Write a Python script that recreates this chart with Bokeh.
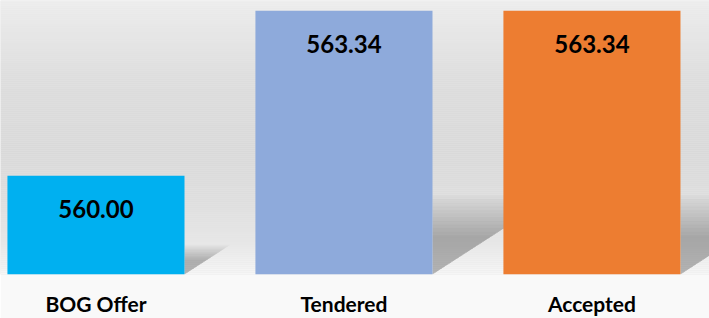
from bokeh.plotting import figure
from bokeh.models import Range1d, FixedTicker, BoxAnnotation, ColumnDataSource
from bokeh.embed import file_html
from bokeh.resources import INLINE
from bokeh.core.properties import value

# ---- data ----
categories = ["BOG Offer", "Tendered", "Accepted"]
amounts = [560.00, 563.34, 563.34]
value_labels = ["560.00", "563.34", "563.34"]
bar_colors = ["#00B0F0", "#8EAADB", "#ED7D31"]
positions = [0, 1, 2]

BASE = 558.0
Y_TOP = 563.547
PX_PER_Y = 274 / (Y_TOP - BASE)
PX_PER_X = 248.0
BAR_W = 0.714

p = figure(width=709, height=318,
           x_range=Range1d(-0.385, 2.474), y_range=Range1d(BASE, Y_TOP),
           output_backend="svg", toolbar_location=None, y_axis_location=None,
           min_border_left=0, min_border_right=0, min_border_top=0, min_border_bottom=44)
p.outline_line_color = None
p.grid.visible = False
p.border_fill_color = "#f9f9f9"
p.background_fill_color = "#e6e6e6"

# ---- background gradient (decoration) ----
stops = [(0, 238), (30, 231), (80, 221), (150, 217), (200, 222), (240, 230), (262, 240), (274, 246)]
def gray_at(px):
    for (a, ga), (b, gb) in zip(stops[:-1], stops[1:]):
        if a <= px <= b:
            t = (px - a) / (b - a)
            return int(round(ga + (gb - ga) * t))
    return stops[-1][1]

for i in range(0, 274, 2):
    g = gray_at(i + 1)
    p.add_layout(BoxAnnotation(top=Y_TOP - i / PX_PER_Y, bottom=Y_TOP - (i + 2) / PX_PER_Y,
                               fill_color="#%02x%02x%02x" % (g, g, g), fill_alpha=1.0,
                               line_color=None, level="underlay"))

# ---- shadows (derived from bars) ----
sh_xs, sh_ys = [], []
for x, v in zip(positions, amounts):
    R = x + BAR_W / 2
    hs = 0.25 * (v - BASE)
    ws = 1.55 * hs * PX_PER_Y / PX_PER_X
    for k in range(12):
        s = 1.2 - 0.055 * k
        sh_xs.append([R, R, R + s * ws])
        sh_ys.append([BASE, BASE + s * hs, BASE + s * hs])
p.patches(sh_xs, sh_ys, fill_color="black", fill_alpha=0.024, line_color=None)

# ---- bars ----
src = ColumnDataSource(dict(x=positions, top=amounts, color=bar_colors, label=value_labels))
p.vbar(x="x", top="top", bottom=BASE, width=BAR_W, fill_color="color", line_color=None, source=src)
p.text(x="x", y="top", text="label", y_offset=33, text_align="center", text_baseline="middle",
       text_font=value("Lato"), text_font_style="bold", text_font_size="24px", text_color="black",
       source=src)

# ---- axis ----
ax = p.xaxis[0]
ax.ticker = FixedTicker(ticks=positions)
ax.major_label_overrides = {k: c for k, c in zip(positions, categories)}
ax.axis_line_color = None
ax.major_tick_line_color = None
ax.minor_tick_line_color = None
ax.major_tick_out = 0
ax.major_tick_in = 0
ax.minor_tick_out = 0
ax.major_label_standoff = 16
ax.major_label_text_font = "Lato"
ax.major_label_text_font_style = "bold"
ax.major_label_text_font_size = "21px"
ax.major_label_text_color = "black"

open("out.html", "w").write(file_html(p, INLINE))
